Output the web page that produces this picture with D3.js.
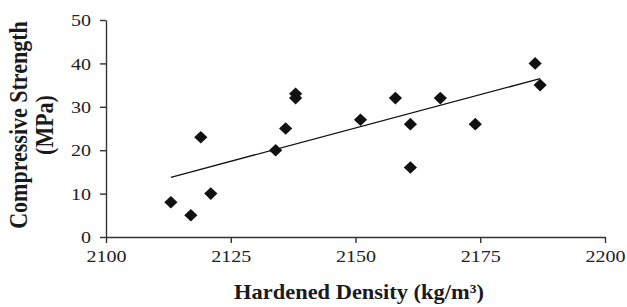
<!DOCTYPE html>
<html>
<head>
<meta charset="utf-8">
<script src="https://cdn.jsdelivr.net/npm/d3@7"></script>
<style>
  body { margin: 0; background: #fff; }
  svg { display: block; }
  .tick text { font-family: "Liberation Serif", "Times New Roman", serif; font-size: 17px; fill: #222; }
  .axis-title { font-family: "Liberation Serif", "Times New Roman", serif; font-weight: bold; font-size: 22px; fill: #1a1a1a; }
</style>
</head>
<body>
<svg id="chart" width="627" height="307"></svg>
<script>
// hardened density (kg/m3) vs compressive strength (MPa)
var density  = [2113, 2117, 2119, 2121, 2134, 2136, 2138, 2138, 2151, 2158, 2161, 2161, 2167, 2174, 2186, 2187];
var strength = [8, 5, 23, 10, 20, 25, 33, 32, 27, 32, 26, 16, 32, 26, 40, 35];
var xTicks = [2100, 2125, 2150, 2175, 2200];
var yTicks = [0, 10, 20, 30, 40, 50];

var svg = d3.select("#chart"),
    margin = {top: 20, right: 22, bottom: 70, left: 106},
    width = 627,
    height = 307,
    stretch = 1.18; // the reference glyphs are drawn a bit wide

var x = d3.scaleLinear().domain([2100, 2200]).range([margin.left, 605]);
var y = d3.scaleLinear().domain([0, 50]).range([237, margin.top]);

var points = density.map(function(d, i) { return {x: d, y: strength[i]}; });

// least squares trendline, drawn over the data range like Excel does
var mx = d3.mean(density), my = d3.mean(strength);
var sxy = d3.sum(points, function(p) { return (p.x - mx) * (p.y - my); });
var sxx = d3.sum(points, function(p) { return (p.x - mx) * (p.x - mx); });
var slope = sxy / sxx, icpt = my - slope * mx;
var xMin = d3.min(density), xMax = d3.max(density);

var xAxis = svg.append("g")
    .attr("transform", "translate(0," + y(0) + ")")
    .call(d3.axisBottom(x).tickValues(xTicks).tickSize(6).tickSizeOuter(0).tickFormat(d3.format("d")));

var yAxis = svg.append("g")
    .attr("transform", "translate(" + x(2100) + ",0)")
    .call(d3.axisLeft(y).tickValues(yTicks).tickSize(6).tickSizeOuter(0));

[xAxis, yAxis].forEach(function(g) {
  g.select(".domain").attr("stroke", "#333").attr("stroke-width", 1.4);
  g.selectAll(".tick line").attr("stroke", "#333").attr("stroke-width", 1.4);
});

xAxis.selectAll(".tick text")
    .attr("y", 0).attr("dy", null)
    .attr("transform", "translate(0,25) scale(" + stretch + ",1)");

yAxis.selectAll(".tick text")
    .attr("x", 0).attr("dy", "0.34em")
    .attr("transform", "translate(-15,0) scale(" + stretch + ",1)");

svg.append("line")
    .attr("x1", x(xMin)).attr("y1", y(slope * xMin + icpt))
    .attr("x2", x(xMax)).attr("y2", y(slope * xMax + icpt))
    .attr("stroke", "#111")
    .attr("stroke-width", 1.3);

svg.selectAll(".pt")
    .data(points)
  .enter().append("path")
    .attr("class", "pt")
    .attr("d", "M0,-6.3L6.6,0L0,6.3L-6.6,0Z")
    .attr("transform", function(d) { return "translate(" + x(d.x) + "," + y(d.y) + ")"; })
    .attr("fill", "#111");

svg.append("text")
    .attr("class", "axis-title")
    .attr("text-anchor", "middle")
    .attr("transform", "translate(359,299) scale(1.02,1)")
    .text("Hardened Density (kg/m³)");

[["Compressive Strength", 27], ["(MPa)", 53]].forEach(function(l) {
  svg.append("text")
      .attr("class", "axis-title")
      .attr("text-anchor", "middle")
      .attr("transform", "translate(" + l[1] + ",125) scale(1.13,1) rotate(-90)")
      .text(l[0]);
});
</script>
</body>
</html>
